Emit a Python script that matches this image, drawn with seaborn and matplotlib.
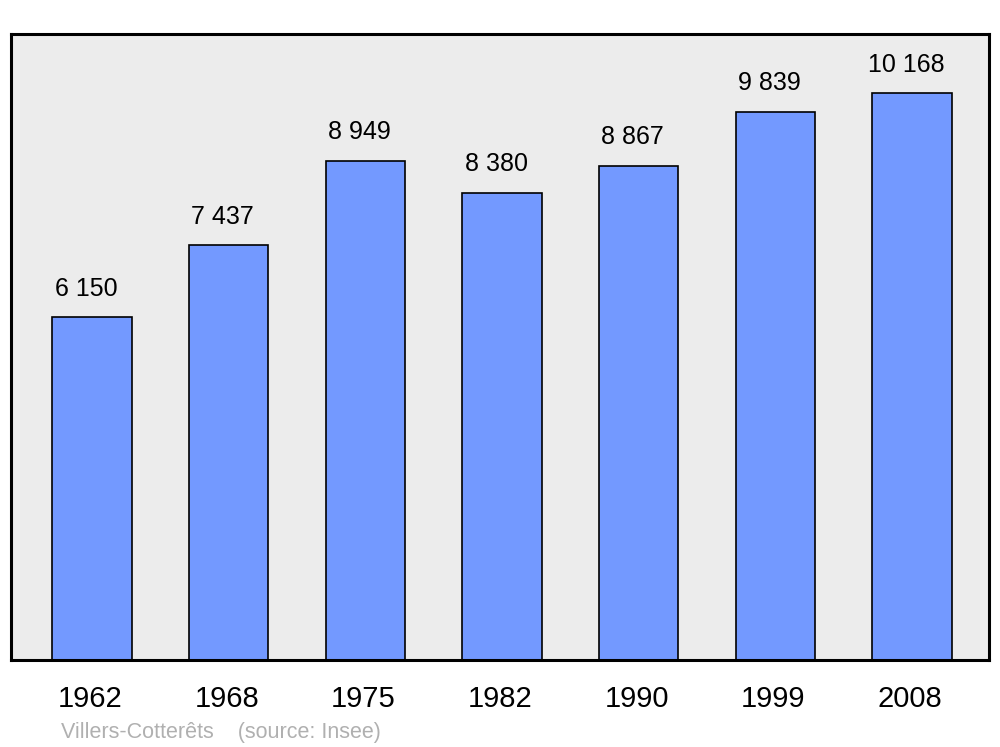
import matplotlib
matplotlib.use("Agg")
import seaborn as sns
import pandas as pd
import matplotlib.pyplot as plt
from matplotlib.transforms import ScaledTranslation

years = ["1962", "1968", "1975", "1982", "1990", "1999", "2008"]
population = [6150, 7437, 8949, 8380, 8867, 9839, 10168]
value_labels = ["6 150", "7 437", "8 949", "8 380", "8 867", "9 839", "10 168"]
caption = "Villers-Cotterêts    (source: Insee)"

df = pd.DataFrame({"year": years, "population": population})

sns.set_theme(style="white")
plt.rcParams["font.family"] = ["Liberation Sans", "DejaVu Sans"]

fig = plt.figure(figsize=(10, 7.47), dpi=100)
ax = fig.add_axes([0.011, 1 - 660 / 747, 0.978, (660 - 34) / 747])
ax.set_facecolor("#ececec")

sns.barplot(data=df, x="year", y="population", color="#7399ff",
            saturation=1, edgecolor="black", linewidth=1.2, width=0.58, ax=ax)

for i, (v, lab) in enumerate(zip(population, value_labels)):
    ax.annotate(lab, (i, v), xytext=(-4.3, 12), textcoords="offset points",
                ha="center", va="bottom", fontsize=18, color="black")

ax.set_xlim(-0.593, 6.563)
ax.set_ylim(0, 11230)
ax.set_yticks([])
ax.set_xlabel("")
ax.set_ylabel("")
ax.tick_params(axis="x", length=0, pad=18, labelsize=21, labelcolor="black")
shift = ScaledTranslation(-2 / 100, 0, fig.dpi_scale_trans)
for t in ax.get_xticklabels():
    t.set_transform(t.get_transform() + shift)
for s in ax.spines.values():
    s.set_visible(True)
    s.set_color("black")
    s.set_linewidth(2.2)

fig.text(0.061, 1 - 738 / 747, caption, fontsize=15.5, color="#b0b0b0",
         ha="left", va="baseline")

fig.savefig("out.png", dpi=100)
